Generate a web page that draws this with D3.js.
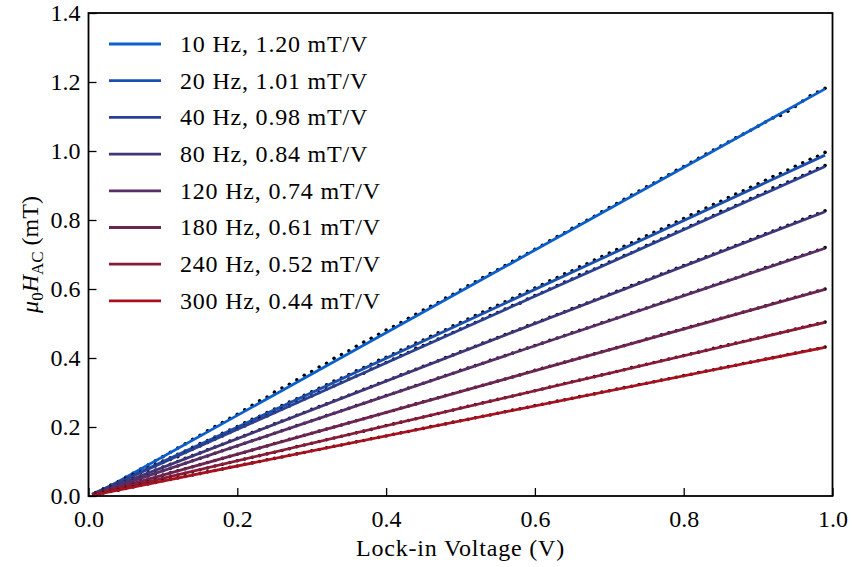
<!DOCTYPE html>
<html>
<head>
<meta charset="utf-8">
<script src="https://cdn.jsdelivr.net/npm/d3@7"></script>
<style>
	body { margin: 0; background: #fff; }
	svg text { fill: #000; }
</style>
</head>
<body>
<div id="c-chart"></div>
<script>
//series names and fitted slopes (legend)
let freqs = ["10 Hz", "20 Hz", "40 Hz", "80 Hz", "120 Hz", "180 Hz", "240 Hz", "300 Hz"];
let slopes = ["1.20", "1.01", "0.98", "0.84", "0.74", "0.61", "0.52", "0.44"];
let colors = ["#0b5fcc", "#1a4fae", "#2b4092", "#3f3578", "#572e66", "#6e2450", "#8a1a36", "#a8101e"];

//fit lines: voltage range and start / end field of each series
let fitV = [0.005, 0.99];
let fitStart = [0.0, 0.005, 0.005, 0.004, 0.004, 0.003, 0.003, 0.002];
let fitEnd = [1.180, 0.988, 0.955, 0.824, 0.718, 0.599, 0.503, 0.431];

//measured points
let voltages = [0.01,0.02,0.03,0.04,0.05,0.06,0.07,0.08,0.09,0.10,
	0.11,0.12,0.13,0.14,0.15,0.16,0.17,0.18,0.19,0.20,
	0.21,0.22,0.23,0.24,0.25,0.26,0.27,0.28,0.29,0.30,
	0.31,0.32,0.33,0.34,0.35,0.36,0.37,0.38,0.39,0.40,
	0.41,0.42,0.43,0.44,0.45,0.46,0.47,0.48,0.49,0.50,
	0.51,0.52,0.53,0.54,0.55,0.56,0.57,0.58,0.59,0.60,
	0.61,0.62,0.63,0.64,0.65,0.66,0.67,0.68,0.69,0.70,
	0.71,0.72,0.73,0.74,0.75,0.76,0.77,0.78,0.79,0.80,
	0.81,0.82,0.83,0.84,0.85,0.86,0.87,0.88,0.89,0.90,
	0.91,0.92,0.93,0.94,0.95,0.96,0.97,0.98,0.99];

let field10 = [0.008,0.019,0.031,0.042,0.054,0.066,0.078,0.090,0.102,0.114,
	0.127,0.139,0.151,0.164,0.176,0.189,0.201,0.213,0.225,0.237,
	0.250,0.263,0.276,0.287,0.301,0.313,0.324,0.337,0.350,0.361,
	0.374,0.385,0.399,0.410,0.421,0.434,0.446,0.457,0.469,0.481,
	0.491,0.503,0.515,0.527,0.539,0.550,0.561,0.574,0.585,0.597,
	0.609,0.621,0.633,0.645,0.656,0.668,0.680,0.692,0.703,0.715,
	0.727,0.740,0.752,0.763,0.776,0.787,0.799,0.811,0.824,0.836,
	0.848,0.860,0.872,0.884,0.896,0.907,0.920,0.931,0.944,0.955,
	0.967,0.979,0.991,1.003,1.014,1.026,1.038,1.049,1.060,1.072,
	1.084,1.096,1.103,1.115,1.129,1.145,1.160,1.171,1.182];

let field20 = [0.009,0.021,0.031,0.040,0.051,0.062,0.070,0.081,0.092,0.101,
	0.111,0.121,0.130,0.141,0.152,0.161,0.171,0.182,0.191,0.201,
	0.212,0.222,0.231,0.242,0.252,0.262,0.272,0.282,0.292,0.302,
	0.312,0.322,0.333,0.342,0.352,0.363,0.372,0.382,0.393,0.402,
	0.412,0.423,0.432,0.443,0.452,0.463,0.473,0.482,0.493,0.503,
	0.513,0.523,0.533,0.543,0.553,0.563,0.573,0.583,0.593,0.603,
	0.613,0.624,0.633,0.644,0.653,0.664,0.673,0.684,0.694,0.704,
	0.714,0.724,0.734,0.744,0.754,0.764,0.774,0.784,0.794,0.804,
	0.815,0.824,0.835,0.845,0.854,0.865,0.875,0.885,0.895,0.905,
	0.915,0.926,0.935,0.945,0.956,0.966,0.976,0.985,0.996];

let field40 = [0.010,0.019,0.029,0.039,0.050,0.058,0.068,0.077,0.087,0.097,
	0.106,0.114,0.126,0.136,0.145,0.155,0.165,0.174,0.184,0.194,
	0.203,0.213,0.225,0.232,0.242,0.252,0.261,0.271,0.281,0.290,
	0.300,0.310,0.319,0.329,0.339,0.348,0.356,0.368,0.378,0.387,
	0.397,0.407,0.416,0.428,0.436,0.445,0.455,0.465,0.474,0.484,
	0.494,0.503,0.513,0.523,0.532,0.542,0.552,0.559,0.571,0.581,
	0.590,0.600,0.610,0.620,0.629,0.641,0.649,0.658,0.668,0.678,
	0.687,0.697,0.705,0.716,0.726,0.736,0.745,0.755,0.765,0.774,
	0.784,0.794,0.803,0.813,0.825,0.832,0.842,0.852,0.862,0.871,
	0.881,0.893,0.900,0.910,0.920,0.929,0.939,0.949,0.958];

let field80 = [0.008,0.017,0.025,0.033,0.042,0.050,0.058,0.067,0.075,0.084,
	0.092,0.100,0.109,0.117,0.125,0.134,0.142,0.150,0.159,0.167,
	0.175,0.184,0.192,0.200,0.209,0.217,0.225,0.234,0.242,0.251,
	0.259,0.267,0.276,0.284,0.292,0.301,0.309,0.317,0.326,0.334,
	0.342,0.351,0.359,0.367,0.376,0.384,0.392,0.401,0.409,0.418,
	0.426,0.434,0.443,0.451,0.459,0.468,0.476,0.484,0.493,0.501,
	0.509,0.518,0.526,0.534,0.543,0.551,0.559,0.568,0.576,0.585,
	0.593,0.601,0.610,0.618,0.626,0.635,0.643,0.651,0.660,0.668,
	0.676,0.685,0.693,0.701,0.710,0.718,0.726,0.735,0.743,0.752,
	0.760,0.768,0.777,0.785,0.793,0.802,0.810,0.818,0.827];

let field120 = [0.007,0.015,0.022,0.029,0.036,0.044,0.051,0.058,0.065,0.073,
	0.080,0.087,0.095,0.102,0.109,0.116,0.124,0.131,0.138,0.145,
	0.153,0.160,0.167,0.174,0.182,0.189,0.196,0.204,0.211,0.218,
	0.225,0.233,0.240,0.247,0.254,0.262,0.269,0.276,0.284,0.291,
	0.298,0.305,0.313,0.320,0.327,0.334,0.342,0.349,0.356,0.364,
	0.371,0.378,0.385,0.393,0.400,0.407,0.414,0.422,0.429,0.436,
	0.443,0.451,0.458,0.465,0.473,0.480,0.487,0.494,0.502,0.509,
	0.516,0.523,0.531,0.538,0.545,0.553,0.560,0.567,0.574,0.582,
	0.589,0.596,0.603,0.611,0.618,0.625,0.632,0.640,0.647,0.654,
	0.662,0.669,0.676,0.683,0.691,0.698,0.705,0.712,0.720];

let field180 = [0.006,0.012,0.018,0.024,0.030,0.036,0.042,0.048,0.055,0.061,
	0.067,0.073,0.079,0.085,0.091,0.097,0.103,0.109,0.115,0.121,
	0.127,0.133,0.139,0.145,0.152,0.158,0.164,0.170,0.176,0.182,
	0.188,0.194,0.200,0.206,0.212,0.218,0.224,0.230,0.236,0.242,
	0.248,0.255,0.261,0.267,0.273,0.279,0.285,0.291,0.297,0.303,
	0.309,0.315,0.321,0.327,0.333,0.339,0.345,0.351,0.358,0.364,
	0.370,0.376,0.382,0.388,0.394,0.400,0.406,0.412,0.418,0.424,
	0.430,0.436,0.442,0.448,0.455,0.461,0.467,0.473,0.479,0.485,
	0.491,0.497,0.503,0.509,0.515,0.521,0.527,0.533,0.539,0.545,
	0.551,0.558,0.564,0.570,0.576,0.582,0.588,0.594,0.600];

let field240 = [0.005,0.010,0.015,0.020,0.025,0.031,0.036,0.041,0.046,0.051,
	0.056,0.061,0.066,0.071,0.076,0.081,0.087,0.092,0.097,0.102,
	0.107,0.112,0.117,0.122,0.127,0.132,0.137,0.143,0.148,0.153,
	0.158,0.163,0.168,0.173,0.178,0.183,0.188,0.193,0.199,0.204,
	0.209,0.214,0.219,0.224,0.229,0.234,0.239,0.244,0.249,0.255,
	0.260,0.265,0.270,0.275,0.280,0.285,0.290,0.295,0.300,0.305,
	0.310,0.316,0.321,0.326,0.331,0.336,0.341,0.346,0.351,0.356,
	0.361,0.366,0.372,0.377,0.382,0.387,0.392,0.397,0.402,0.407,
	0.412,0.417,0.422,0.428,0.433,0.438,0.443,0.448,0.453,0.458,
	0.463,0.468,0.473,0.478,0.484,0.489,0.494,0.499,0.504];

let field300 = [0.004,0.009,0.013,0.017,0.022,0.026,0.031,0.035,0.039,0.044,
	0.048,0.052,0.057,0.061,0.065,0.070,0.074,0.078,0.083,0.087,
	0.092,0.096,0.100,0.105,0.109,0.113,0.118,0.122,0.126,0.131,
	0.135,0.140,0.144,0.148,0.153,0.157,0.161,0.166,0.170,0.174,
	0.179,0.183,0.187,0.192,0.196,0.201,0.205,0.209,0.214,0.218,
	0.222,0.227,0.231,0.235,0.240,0.244,0.249,0.253,0.257,0.262,
	0.266,0.270,0.275,0.279,0.283,0.288,0.292,0.296,0.301,0.305,
	0.310,0.314,0.318,0.323,0.327,0.331,0.336,0.340,0.344,0.349,
	0.353,0.358,0.362,0.366,0.371,0.375,0.379,0.384,0.388,0.392,
	0.397,0.401,0.405,0.410,0.414,0.419,0.423,0.427,0.432];

let fields = [field10, field20, field40, field80, field120, field180, field240, field300];

let xTicks = [0.0, 0.2, 0.4, 0.6, 0.8, 1.0];
let yTicks = [0.0, 0.2, 0.4, 0.6, 0.8, 1.0, 1.2, 1.4];


function drawChart(){

	//sizing
	let width = 852;
	let height = 567;
	let margin = {top:13, right:19.5, bottom:71, left:88.5};
	let serif = "Liberation Serif, DejaVu Serif, Tinos, Times New Roman, Times, Nimbus Roman, FreeSerif, Noto Serif, serif";

	let svg = d3.select("#c-chart")
		.append("svg")
		.attr("width", width)
		.attr("height", height)
		.style("font-family", serif);

	const xScale = d3.scaleLinear()
		.domain([0, 1])
		.range([margin.left, width-margin.right]);

	const yScale = d3.scaleLinear()
		.domain([0, 1.4])
		.range([height-margin.bottom, margin.top]);

	//clip to the axes box
	svg.append("clipPath")
		.attr("id", "plot-clip")
		.append("rect")
		.attr("x", margin.left)
		.attr("y", margin.top)
		.attr("width", width-margin.left-margin.right)
		.attr("height", height-margin.top-margin.bottom);

	let plot = svg.append("g").attr("clip-path", "url(#plot-clip)");

	const line = d3.line()
		.x((d)=>{ return xScale(d[0]); })
		.y((d)=>{ return yScale(d[1]); });

	//each series: points then fit line
	fields.forEach((f, i)=>{
		plot.append("g")
			.selectAll("circle")
			.data(voltages.map((v, j)=>{ return [v, f[j]]; }))
			.enter()
			.append("circle")
			.attr("cx", (d)=>{ return xScale(d[0]); })
			.attr("cy", (d)=>{ return yScale(d[1]); })
			.attr("r", 1.8)
			.attr("fill", "#000");

		plot.append("path")
			.datum([[fitV[0], fitStart[i]], [fitV[1], fitEnd[i]]])
			.attr("d", line)
			.attr("fill", "none")
			.attr("stroke", colors[i])
			.attr("stroke-width", 2.8);
	});

	//axes, ticks inside
	const xAxis = d3.axisBottom(xScale)
		.tickValues(xTicks)
		.tickFormat(d3.format(".1f"))
		.tickSizeInner(-8)
		.tickSizeOuter(0)
		.tickPadding(14);

	const yAxis = d3.axisLeft(yScale)
		.tickValues(yTicks)
		.tickFormat(d3.format(".1f"))
		.tickSizeInner(-8)
		.tickSizeOuter(0)
		.tickPadding(8);

	let gx = svg.append("g")
		.attr("transform", `translate(0,${height-margin.bottom})`)
		.call(xAxis);

	let gy = svg.append("g")
		.attr("transform", `translate(${margin.left},0)`)
		.call(yAxis);

	[gx, gy].forEach((g)=>{
		g.attr("font-family", null).attr("font-size", 24);
		g.select(".domain").remove();
		g.selectAll("line").attr("stroke", "#000").attr("stroke-width", 1.3);
	});

	//frame
	svg.append("rect")
		.attr("x", margin.left)
		.attr("y", margin.top)
		.attr("width", width-margin.left-margin.right)
		.attr("height", height-margin.top-margin.bottom)
		.attr("fill", "none")
		.attr("stroke", "#000")
		.attr("stroke-width", 1.8);

	//axis labels
	svg.append("text")
		.attr("x", (margin.left + width - margin.right)/2)
		.attr("y", 556)
		.attr("text-anchor", "middle")
		.attr("font-size", 24)
		.attr("letter-spacing", 0.8)
		.text("Lock-in Voltage (V)");

	let yLab = svg.append("text")
		.attr("transform", `translate(38,${(margin.top + height - margin.bottom)/2}) rotate(-90)`)
		.attr("text-anchor", "middle")
		.attr("font-size", 24);
	yLab.append("tspan").attr("font-style", "italic").text("μ");
	yLab.append("tspan").attr("font-size", 17).attr("dy", 5).text("0");
	yLab.append("tspan").attr("font-style", "italic").attr("dy", -5).text("H");
	yLab.append("tspan").attr("font-size", 17).attr("dy", 5).text("AC");
	yLab.append("tspan").attr("dy", -5).text(" (mT)");

	//legend
	let legend = svg.append("g");
	freqs.forEach((fr, i)=>{
		let y = 44 + i*36.7;
		legend.append("line")
			.attr("x1", 109).attr("x2", 161)
			.attr("y1", y).attr("y2", y)
			.attr("stroke", colors[i])
			.attr("stroke-width", 2.8);
		legend.append("text")
			.attr("x", 180)
			.attr("y", y)
			.attr("dy", "0.33em")
			.attr("font-size", 24)
			.attr("letter-spacing", 0.8)
			.text(`${fr}, ${slopes[i]} mT/V`);
	});

}

drawChart();
</script>
</body>
</html>
